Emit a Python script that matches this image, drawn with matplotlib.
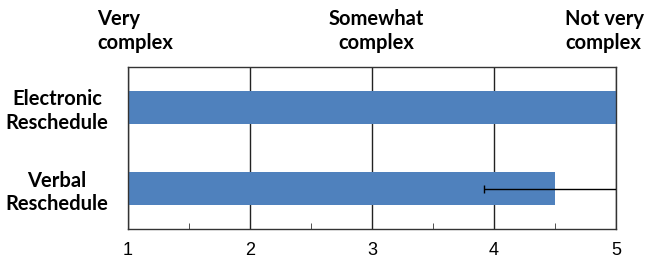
import numpy as np
import matplotlib.pyplot as plt

categories = ['Electronic\nReschedule', 'Verbal\nReschedule']
scores = [5.0, 4.5]
errors = [0.0, 0.58]
scale_labels = ['Very\ncomplex', 'Somewhat\ncomplex', 'Not very\ncomplex']
scale_pos = [0.746, 3.033, 4.582]
scale_ha = ['left', 'center', 'left']

bar_color = '#4F81BD'

fig = plt.figure(figsize=(6.45, 2.61), dpi=100)
ax = fig.add_axes([0.1984, 0.1215, 0.7566, 0.6229])

y = np.arange(len(categories))
ax.barh(y, np.array(scores) - 1, left=1, height=0.41, color=bar_color, zorder=2)
# error bar only on the verbal bar
ax.errorbar(scores[1], y[1], xerr=errors[1], fmt='none', ecolor='black',
            elinewidth=1, capsize=3, capthick=1, zorder=3)

ax.set_xlim(1, 5)
ax.set_ylim(1.5, -0.5)
ax.set_xticks([1, 2, 3, 4, 5])
ax.set_xticks([1.5, 2.5, 3.5, 4.5], minor=True)
ax.tick_params(axis='x', which='major', length=0, pad=9, labelsize=13)
ax.tick_params(axis='x', which='minor', direction='in', length=4, color='#333333')
ax.grid(axis='x', which='major', color='#222222', linewidth=1, zorder=1)

ax.set_yticks(y)
ax.set_yticklabels(categories, fontfamily='Lato', fontweight='bold', fontsize=14.5,
                   linespacing=1.2)
ax.tick_params(axis='y', length=0, pad=51)
for lbl in ax.get_yticklabels():
    lbl.set_ha('center')

for lbl in ax.get_xticklabels():
    lbl.set_fontfamily('Liberation Sans')

for s in ax.spines.values():
    s.set_color('#333333')
    s.set_linewidth(1)

for txt, xp, ha in zip(scale_labels, scale_pos, scale_ha):
    ax.text(xp, 1.219, txt, transform=ax.get_xaxis_transform(), ha=ha,
            va='center', multialignment=ha, fontfamily='Lato', fontweight='bold',
            fontsize=14.5, linespacing=1.25, clip_on=False)

fig.savefig('out.png', dpi=100)
